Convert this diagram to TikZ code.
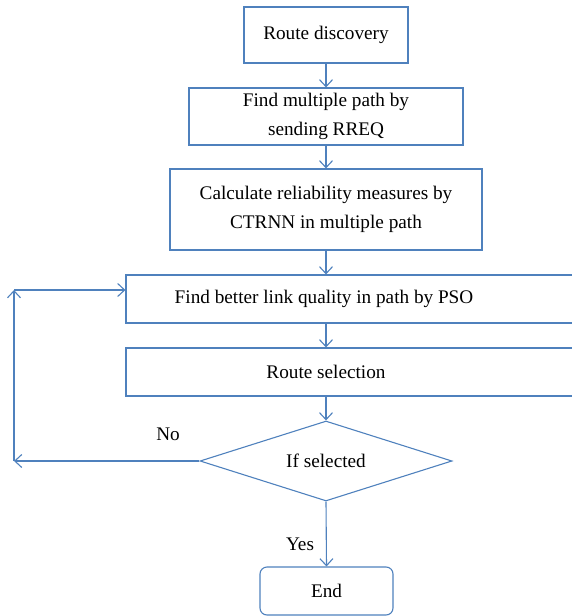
\documentclass[tikz,border=0pt]{standalone}
\usepackage{fontspec}
\setmainfont{Liberation Serif}
\usetikzlibrary{arrows.meta,shapes.geometric}
\definecolor{lblue}{HTML}{4F81BD}
\begin{document}
\begin{tikzpicture}[x=1bp,y=-1bp,
  box/.style={draw=lblue,line width=1.1bp,minimum width=#1,inner sep=0pt,align=center,font=\fontsize{19.3}{29}\selectfont},
  txt/.style={inner sep=0pt,font=\fontsize{19.3}{29}\selectfont},
  conn/.style={draw=lblue,line width=1.1bp,-{Straight Barb[length=7bp,width=13bp]}},
  lbl/.style={font=\fontsize{19.3}{23}\selectfont,inner sep=0pt}]
\useasboundingbox (0,0) rectangle (572,616);
\clip (0,0) rectangle (572,616);
\node[box=164bp,minimum height=56bp] (b1) at (326,35) {Route discovery};
\node[box=274bp,minimum height=57bp] (b2) at (326,116.5) {Find multiple path by\\sending RREQ};
\node[box=312bp,minimum height=81bp] (b3) at (326,209.5) {Calculate reliability measures by\\CTRNN in multiple path};
\node[box=454bp,minimum height=48bp] (b4) at (353,299) {};
\node[txt] (t4) at (324,299) {Find better link quality in path by PSO};
\node[box=454bp,minimum height=48bp] (b5) at (353,372) {};
\node[txt] (t5) at (326,372) {Route selection};
\node[diamond,aspect=3.15,draw=lblue,line width=1.1bp,minimum width=252bp,minimum height=80bp,inner sep=0pt,font=\fontsize{19.3}{23}\selectfont] (d) at (326,461) {If selected};
\node[box=133bp,minimum height=48bp,rounded corners=7bp] (e) at (326.5,591) {End};
\coordinate (c1) at (14,461);
\coordinate (c2) at (14,290);
\draw[conn] (b1.south) -- (b2.north);
\draw[conn] (b2.south) -- (b3.north);
\draw[conn] (b3.south) -- (b3.south |- b4.north);
\draw[conn] (b4.south -| b3.south) -- (b3.south |- b5.north);
\draw[conn] (b5.south -| b3.south) -- (d.north);
\draw[conn] (d.south) -- (e.north);
\draw[conn] (d.west) -- (c1);
\draw[conn] (c1) -- (c2);
\draw[conn] (c2) -- (c2 -| b4.west);
\node[lbl] (no) at (168,434) {No};
\node[lbl] (yes) at (300,544) {Yes};
\end{tikzpicture}
\end{document}
